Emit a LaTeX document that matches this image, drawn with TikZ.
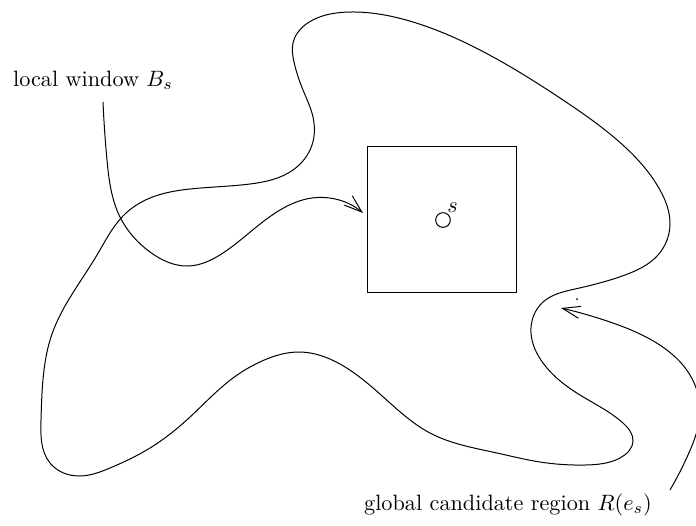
\documentclass[tikz,border=0pt]{standalone}
\usetikzlibrary{arrows.meta,hobby}
\tikzset{
  outline/.style={line width=0.45pt, black},
  barb/.style={-{Straight Barb[length=8pt,width=5.5pt]}, line width=0.45pt},
  lbl/.style={inner sep=0pt, font=\normalsize}
}
\begin{document}
\begin{tikzpicture}[x=0.45pt,y=-0.45pt]
\useasboundingbox (0,0) rectangle (696,525);
% global region outline
\draw[outline, use Hobby shortcut, closed=true]
 (293,43) .. (317,18) .. (350,12) .. (413,22) .. (480,50) .. (563,100) .. (625,147)
 .. (660,190) .. (670,225) .. (658,255) .. (625,275) .. (575,289) .. (543,302)
 .. (531,333) .. (543,363) .. (580,395) .. (623,423) .. (633,441) .. (620,458)
 .. (585,465) .. (540,462) .. (497,453) .. (430,433) .. (390,403) .. (340,364)
 .. (300,352) .. (262,361) .. (233,378) .. (190,417) .. (150,448) .. (110,468)
 .. (80,476) .. (50,463) .. (41,420) .. (44,370) .. (52,334)
 .. (97,255) .. (125,214) .. (150,198) .. (190,189) .. (250,184)
 .. (293,170) .. (312,145) .. (313,117) .. (303,90) .. (294,62);
% local window
\node[draw, line width=0.45pt, minimum width=67.05pt, minimum height=65.7pt, inner sep=0pt] (win) at (441.5,219) {};
\node[draw, circle, line width=0.45pt, minimum size=6.6pt, inner sep=0pt] (s) at (443,220) {};
\node[lbl, anchor=south west] (slabel) at (447,213) {$s$};
% labels
\node[lbl] (lw) at (93,80) {local window $B_s$};
\node[lbl] (gr) at (508,505) {global candidate region $R(e_s)$};
\coordinate (lwstart) at (103,102);
\coordinate (lwend) at (363,213);
\draw[barb, use Hobby shortcut] (lwstart) .. (107,160) .. (120,217) .. (150,252)
 .. (188,266) .. (223,253) .. (280,210) .. (312,198) .. (lwend);
% right arrow (clipped at right edge)
\coordinate (grstart) at (670,490);
\coordinate (grend) at (561,308);
\begin{scope}
\clip (0,0) rectangle (696,525);
\draw[barb, use Hobby shortcut] (grstart) .. (688,455) .. (700,410) .. (690,375)
 .. (655,342) .. (610,322) .. (grend);
\end{scope}
\fill (577,299) circle[radius=0.45pt];
\end{tikzpicture}
\end{document}
